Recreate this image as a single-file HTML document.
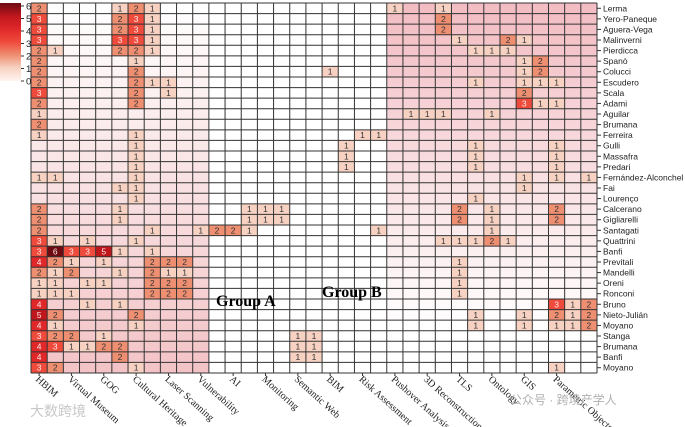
<!DOCTYPE html>
<html><head><meta charset="utf-8">
<style>
html,body{margin:0;padding:0;background:#fff;}
svg{display:block;}
</style></head>
<body>
<svg id="chart" width="685" height="427" viewBox="0 0 685 427" xmlns="http://www.w3.org/2000/svg">
<defs>
<linearGradient id="cbar" x1="0" y1="1" x2="0" y2="0">
<stop offset="0" stop-color="#fff5f0"/><stop offset="0.17" stop-color="#f7d2c2"/><stop offset="0.33" stop-color="#ee8f72"/><stop offset="0.5" stop-color="#ef4b3c"/><stop offset="0.67" stop-color="#e0282a"/><stop offset="0.83" stop-color="#c0171d"/><stop offset="1" stop-color="#6d0a12"/>
</linearGradient>
<linearGradient id="leftBand" x1="0" y1="0" x2="0" y2="1">
<stop offset="0" stop-color="#f3c3c6" stop-opacity="0"/><stop offset="1" stop-color="#f3c3c6" stop-opacity="1"/>
</linearGradient>
<linearGradient id="rightBand" x1="0" y1="0" x2="0" y2="1">
<stop offset="0" stop-color="#f2bcc2" stop-opacity="1"/><stop offset="0.88" stop-color="#f2bcc2" stop-opacity="0"/><stop offset="1" stop-color="#f2bcc2" stop-opacity="0"/>
</linearGradient>
</defs>
<g id="bands"></g><g id="cells"></g><g id="grid"></g><g id="labels"></g><g id="cb"></g>
<text x="216" y="306" font-family="Liberation Serif, serif" font-size="16" font-weight="bold">Group A</text>
<text x="322" y="297" font-family="Liberation Serif, serif" font-size="16" font-weight="bold">Group B</text>
<text x="30" y="416" font-family="Liberation Sans, Noto Sans CJK SC, sans-serif" font-size="14" fill="#c8c8c8">大数跨境</text>
<text x="510" y="404" font-family="Liberation Sans, Noto Sans CJK SC, sans-serif" font-size="12" fill="#b0b0b0">公众号 · 跨境产学人</text>
</svg>
<script>
const rowLabels = ["Lerma","Yero-Paneque","Aguera-Vega","Malinverni","Pierdicca","Spanò","Colucci","Escudero","Scala","Adami","Aguilar","Brumana","Ferreira","Gulli","Massafra","Predari","Fernández-Alconchel","Fai","Lourenço","Calcerano","Gigliarelli","Santagati","Quattrini","Banfi","Previtali","Mandelli","Oreni","Ronconi","Bruno","Nieto-Julián","Moyano","Stanga","Brumana","Banfi","Moyano"];
const colLabels = ["HBIM","Virtual Museum","GOG","Cultural  Heritage","Laser Scanning","Vulnerability","AI","Monitoring","Semantic Web","BIM","Risk Assessment","Pushover Analysis","3D Reconstruction","TLS","Ontology","GIS","Parametric Objects"];
const colorbarTicks = [0,1,2,3,4,5,6];
// sparse "col:value" per row
const cellValues = [
"0:2 5:1 6:2 7:1 22:1 25:1",
"0:3 5:2 6:3 7:1 25:2",
"0:3 5:2 6:3 7:1 25:2",
"0:3 5:3 6:3 7:1 26:1 29:2 30:1",
"0:2 1:1 5:2 6:2 7:1 27:1 28:1 29:1",
"0:2 6:1 30:1 31:2",
"0:2 6:2 18:1 30:1 31:2",
"0:2 6:2 7:1 8:1 27:1 30:1 31:1 32:1",
"0:3 6:2 8:1 30:2",
"0:2 6:2 30:3 31:1 32:1",
"0:1 23:1 24:1 25:1 28:1",
"0:2",
"0:1 6:1 20:1 21:1",
"6:1 19:1 27:1 32:1",
"6:1 19:1 27:1 32:1",
"6:1 19:1 27:1 32:1",
"0:1 1:1 6:1 30:1 32:1 34:1",
"5:1 6:1 30:1",
"6:1 27:1",
"0:2 5:1 13:1 14:1 15:1 26:2 28:1 32:2",
"0:2 5:1 13:1 14:1 15:1 26:2 28:1 32:2",
"0:2 7:1 10:1 11:2 12:2 13:1 21:1 28:1",
"0:3 1:1 3:1 6:1 25:1 26:1 27:1 28:2 29:1",
"0:3 1:6 2:3 3:3 4:5 5:1 7:1",
"0:4 1:2 2:1 4:1 7:2 8:2 9:2 26:1",
"0:2 1:1 2:2 5:1 7:2 8:1 9:1 26:1",
"0:1 1:1 3:1 4:1 7:2 8:2 9:2 26:1",
"0:1 1:1 2:1 7:2 8:2 9:2 26:1",
"0:4 3:1 5:1 32:3 33:1 34:2",
"0:5 1:2 6:2 27:1 30:1 32:2 33:1 34:2",
"0:4 1:1 6:1 27:1 30:1 32:1 33:1 34:2",
"0:3 1:2 2:2 4:1 16:1 17:1",
"0:4 1:3 2:1 3:1 4:2 5:2 16:1 17:1",
"0:4 5:2 16:1 17:1",
"0:3 1:2 6:1 32:1"
];
const NC = 35, NR = rowLabels.length;
const X0 = 31, X1 = 597, Y0 = 3, Y1 = 373;
const cw = (X1-X0)/NC, rh = (Y1-Y0)/NR;
const xs = c => X0 + c*cw;
const ys = r => Y0 + r*rh;
const stops = ["#fff5f0","#f7d2c2","#ee8f72","#ef4b3c","#e0282a","#c0171d","#6d0a12"];
function hex(h){return [1,3,5].map(i=>parseInt(h.substr(i,2),16));}
function color(v){v=Math.max(0,Math.min(6,v));const i=Math.min(5,Math.floor(v)),t=v-i;const a=hex(stops[i]),b=hex(stops[i+1]);return "rgb("+a.map((x,k)=>Math.round(x+(b[k]-x)*t)).join(",")+")";}
const NS="http://www.w3.org/2000/svg";
function mk(tag,attrs,parent){const e=document.createElementNS(NS,tag);for(const k in attrs)e.setAttribute(k,attrs[k]);parent.appendChild(e);return e;}
const bands=document.getElementById('bands'),cellsG=document.getElementById('cells'),grid=document.getElementById('grid'),labels=document.getElementById('labels'),cb=document.getElementById('cb');
let b1=mk('rect',{x:xs(0),y:Y0,width:11*cw,height:Y1-Y0,fill:'url(#leftBand)'},bands);


let b2=mk('rect',{x:xs(22),y:Y0,width:13*cw,height:Y1-Y0,fill:'url(#rightBand)'},bands);


cellValues.forEach((row,r)=>{
  row.split(' ').filter(s=>s).forEach(s=>{
    const [c,v]=s.split(':').map(Number);
    if(!v)return;
    const rc=mk('rect',{x:xs(c),y:ys(r),width:cw,height:rh,fill:color(v)},cellsG);
    
    
    const t=mk('text',{x:xs(c)+cw/2,y:ys(r)+rh/2+3,'text-anchor':'middle','font-family':'Liberation Sans, sans-serif','font-size':'8.5',fill:v>=3?'#ffe8e8':'#333'},cellsG);
    t.textContent=v;
    
    
  });
});
for(let c=0;c<=NC;c++)mk('line',{x1:xs(c),y1:Y0,x2:xs(c),y2:Y1,stroke:'#333','stroke-width':1},grid);
for(let r=0;r<=NR;r++)mk('line',{x1:X0,y1:ys(r),x2:X1,y2:ys(r),stroke:'#333','stroke-width':1},grid);
rowLabels.forEach((l,r)=>{
  mk('line',{x1:X1,y1:ys(r)+rh/2,x2:X1+4,y2:ys(r)+rh/2,stroke:'#333'},labels);
  const t=mk('text',{x:X1+6,y:ys(r)+rh/2+3,'font-family':'Liberation Sans, sans-serif','font-size':'8.5',fill:'#222'},labels);
  t.textContent=l;
  
  
});
colLabels.forEach((l,i)=>{
  const cx=xs(i*2)+cw/2;
  mk('line',{x1:cx,y1:Y1,x2:cx,y2:Y1+3,stroke:'#333'},labels);
  const t=mk('text',{x:0,y:0,transform:'translate('+(cx-4)+','+(Y1+7)+') rotate(42)','font-family':'Liberation Serif, serif','font-size':'10',fill:'#222'},labels);
  t.textContent=l;
  
  
});
const cbTop=6,cbBot=81;
const cbr=mk('rect',{x:0,y:cbTop-3,width:21,height:cbBot-cbTop+3,fill:'url(#cbar)'},cb);


colorbarTicks.forEach(v=>{
  const y=cbBot-(cbBot-cbTop)*v/6;
  mk('line',{x1:21,y1:y,x2:24,y2:y,stroke:'#333'},cb);
  const t=mk('text',{x:26,y:y+3.5,'font-family':'Liberation Sans, sans-serif','font-size':'9.5',fill:'#222'},cb);
  t.textContent=v;
  
  
});
</script>
</body></html>
